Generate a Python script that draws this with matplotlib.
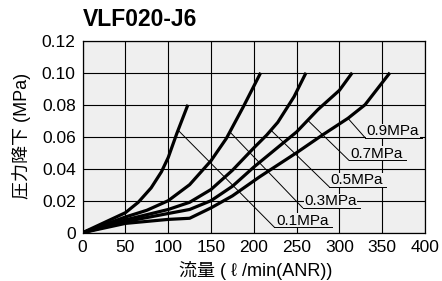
import numpy as np
import matplotlib.pyplot as plt

plt.rcParams["font.family"] = ["Liberation Sans", "Noto Sans CJK JP", "DejaVu Sans"]

TITLE = "VLF020-J6"
XLABEL = "流量 ( ℓ /min(ANR))"
YLABEL = "圧力降下 (MPa)"

# flow (l/min) vs pressure drop (MPa)
flow_01 = [0, 50, 65, 80, 92, 100, 110, 123]
drop_01 = [0, 0.0125, 0.019, 0.028, 0.038, 0.047, 0.062, 0.080]

flow_03 = [0, 50, 75, 100, 125, 150, 168, 188, 208]
drop_03 = [0, 0.0098, 0.014, 0.020, 0.030, 0.045, 0.059, 0.079, 0.100]

flow_05 = [0, 50, 100, 125, 150, 175, 200, 215, 228, 247, 261]
drop_05 = [0, 0.0080, 0.0145, 0.019, 0.027, 0.039, 0.053, 0.061, 0.069, 0.085, 0.100]

flow_07 = [0, 50, 100, 125, 150, 175, 200, 225, 250, 275, 300, 315]
drop_07 = [0, 0.0069, 0.012, 0.0145, 0.020, 0.029, 0.041, 0.052, 0.063, 0.077, 0.089, 0.100]

flow_09 = [0, 50, 100, 125, 150, 175, 207, 250, 280, 310, 330, 359]
drop_09 = [0, 0.0058, 0.0083, 0.009, 0.0155, 0.023, 0.035, 0.050, 0.061, 0.0715, 0.080, 0.100]

curves = [
    ("0.1MPa", flow_01, drop_01),
    ("0.3MPa", flow_03, drop_03),
    ("0.5MPa", flow_05, drop_05),
    ("0.7MPa", flow_07, drop_07),
    ("0.9MPa", flow_09, drop_09),
]

# leader: x where it leaves the curve, and the label anchor (data coords)
leader_x = [111.5, 172, 220, 263, 310]
label_xy = [(224, 0.0034), (257, 0.0156), (288, 0.0287), (311, 0.0453), (330, 0.0594)]
UNDERLINE = 67

BG = "#efefef"

fig = plt.figure(figsize=(4.42, 2.81), dpi=100)
ax = fig.add_axes([0.187, 0.172, 0.7745, 0.683])
ax.set_facecolor(BG)

for name, fx, fy in curves:
    ax.plot(fx, fy, color="black", lw=2.3, solid_capstyle="butt", zorder=3)

for (name, fx, fy), lx, (tx, ty) in zip(curves, leader_x, label_xy):
    ly = np.interp(lx, fx, fy)
    ax.plot([lx, tx], [ly, ty], color="black", lw=0.7, zorder=2)
    ax.text(tx + 2, ty + 0.0015, name, fontsize=11, ha="left", va="baseline",
            zorder=4, bbox=dict(facecolor=BG, edgecolor="none", pad=0.3))
    ax.plot([tx, tx + UNDERLINE], [ty, ty], color="black", lw=0.7, zorder=5)

ax.set_xlim(0, 400)
ax.set_ylim(0, 0.12)
ax.set_xticks(np.arange(0, 401, 50))
ax.set_yticks(np.arange(0, 0.121, 0.02))
ax.set_yticklabels(["0", "0.02", "0.04", "0.06", "0.08", "0.10", "0.12"])
ax.tick_params(length=0, labelsize=12.5, pad=5)
ax.grid(True, color="black", lw=0.8)
ax.set_axisbelow(True)
for s in ax.spines.values():
    s.set_color("black")
    s.set_linewidth(0.9)

fig.text(83 / 442, 1 - 19.5 / 281, TITLE, fontsize=16.5, fontweight="bold",
         ha="left", va="center")
fig.text(22 / 442, 1 - 136 / 281, YLABEL, fontsize=13, rotation=90,
         ha="center", va="center")
fig.text(256 / 442, 1 - 270 / 281, XLABEL, fontsize=13, ha="center", va="center")

fig.savefig("out.png", dpi=100)
